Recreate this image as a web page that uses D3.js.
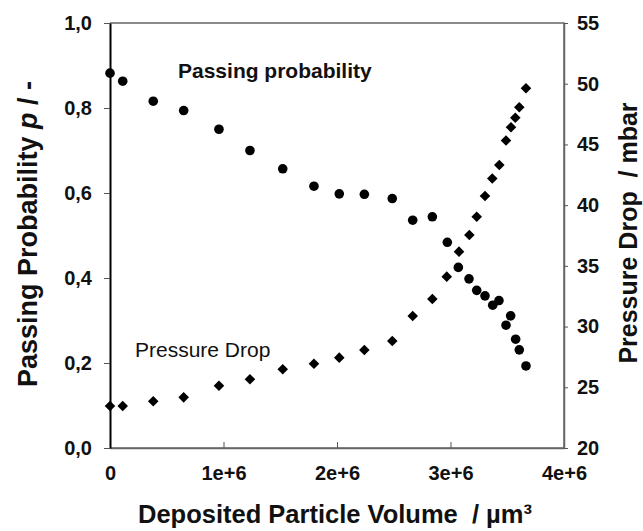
<!DOCTYPE html>
<html lang="en">
<head>
  <meta charset="UTF-8">
  <title>Passing probability and pressure drop</title>
  <style>
  body { margin: 0; background: #fff; }
  svg { display: block; }
  text { font-family: "Liberation Sans", Arial, sans-serif; fill: #111; white-space: pre; }
  .tick text { font-weight: bold; font-size: 20px; }
  .title { font-weight: bold; font-size: 26px; }
  </style>
</head>
<body>
  <svg></svg>
  <script src="https://d3js.org/d3.v7.min.js"></script>
  <script>
  // deposited particle volume (um^3)
  var volume = [0, 0.112e6, 0.381e6, 0.649e6, 0.960e6, 1.233e6, 1.522e6, 1.797e6, 2.020e6, 2.241e6,
                2.487e6, 2.667e6, 2.840e6, 2.972e6, 3.069e6, 3.163e6, 3.231e6, 3.304e6, 3.372e6,
                3.427e6, 3.530e6, 3.489e6, 3.574e6, 3.606e6, 3.665e6];
  var passing = [0.882, 0.863, 0.816, 0.794, 0.750, 0.700, 0.657, 0.616, 0.598, 0.597,
                 0.587, 0.536, 0.544, 0.484, 0.425, 0.398, 0.371, 0.358, 0.336,
                 0.347, 0.311, 0.289, 0.256, 0.231, 0.193];
  var volumeDp = [0, 0.112e6, 0.381e6, 0.649e6, 0.960e6, 1.233e6, 1.522e6, 1.797e6, 2.020e6, 2.241e6,
                  2.487e6, 2.667e6, 2.840e6, 2.967e6, 3.075e6, 3.166e6, 3.231e6, 3.304e6, 3.368e6,
                  3.430e6, 3.489e6, 3.533e6, 3.571e6, 3.606e6, 3.665e6];
  var pressureDrop = [23.46, 23.46, 23.85, 24.17, 25.13, 25.66, 26.48, 26.94, 27.44, 28.07,
                      28.81, 30.87, 32.27, 34.11, 36.17, 37.54, 39.05, 40.75, 42.2,
                      43.31, 45.33, 46.41, 47.2, 48.06, 49.62];
  var xTicks = [0, 1e6, 2e6, 3e6, 4e6];
  var leftTicks = [0, 0.2, 0.4, 0.6, 0.8, 1.0];
  var rightTicks = [20, 25, 30, 35, 40, 45, 50, 55];

  var width = 643;
  var height = 531;
  var plotL = 110, plotR = 564, plotT = 23, plotB = 448;

  var svg = d3.select("svg")
      .attr("width", width)
      .attr("height", height);

  var xScale = d3.scaleLinear().domain([0, 4e6]).range([plotL, plotR]);
  var yLeft = d3.scaleLinear().domain([0, 1]).range([plotB, plotT]);
  var yRight = d3.scaleLinear().domain([20, 55]).range([plotB, plotT]);

  // frame (top + right + bottom in grey)
  svg.append("path")
      .attr("d", "M" + plotL + "," + plotT + "H" + plotR + "V" + plotB + "H" + plotL)
      .attr("fill", "none")
      .attr("stroke", "#666")
      .attr("stroke-width", 1.5);

  var xAxis = svg.append("g")
      .attr("transform", "translate(0," + plotB + ")")
      .call(d3.axisBottom(xScale)
        .tickValues(xTicks)
        .tickSizeInner(-6)
        .tickSizeOuter(0)
        .tickFormat(d => d === 0 ? "0" : (d / 1e6) + "e+6"));
  xAxis.select(".domain").attr("stroke", "#666").attr("stroke-width", 1.5);
  xAxis.selectAll(".tick line").attr("stroke", "#555");
  xAxis.selectAll(".tick text").attr("y", 18).attr("dy", "0.71em");

  var lAxis = svg.append("g")
      .attr("transform", "translate(" + plotL + ",0)")
      .call(d3.axisLeft(yLeft)
        .tickValues(leftTicks)
        .tickSizeInner(6)
        .tickSizeOuter(0)
        .tickPadding(12)
        .tickFormat(d => d.toFixed(1).replace(".", ",")));
  lAxis.select(".domain").attr("stroke", "#000").attr("stroke-width", 2);
  lAxis.selectAll(".tick line").attr("stroke", "#555");

  var rAxis = svg.append("g")
      .attr("transform", "translate(" + plotR + ",0)")
      .call(d3.axisRight(yRight)
        .tickValues(rightTicks)
        .tickSizeInner(4)
        .tickSizeOuter(0)
        .tickPadding(9));
  rAxis.select(".domain").attr("stroke", "#666").attr("stroke-width", 1.5);
  rAxis.selectAll(".tick line").attr("stroke", "#555");

  // passing probability, circles
  svg.append("g").selectAll("circle")
      .data(volume)
      .enter()
      .append("circle")
        .attr("cx", d => xScale(d))
        .attr("cy", (d, i) => yLeft(passing[i]))
        .attr("r", 4.8)
        .attr("fill", "#000");

  // pressure drop, diamonds
  var diamond = d3.symbol(d3.symbolSquare, 56);
  svg.append("g").selectAll("path")
      .data(volumeDp)
      .enter()
      .append("path")
        .attr("d", diamond)
        .attr("transform", (d, i) => "translate(" + xScale(d) + "," + yRight(pressureDrop[i]) + ") rotate(45)")
        .attr("fill", "#000");

  // annotations
  svg.append("text")
      .attr("x", 178).attr("y", 78)
      .style("font-weight", "bold").style("font-size", "21px")
      .text("Passing probability");
  svg.append("text")
      .attr("x", 135).attr("y", 357)
      .style("font-size", "21px")
      .text("Pressure Drop");

  // axis titles
  svg.append("text")
      .attr("class", "title")
      .attr("text-anchor", "middle")
      .style("font-size", "25.5px")
      .attr("x", 335).attr("y", 523)
      .text("Deposited Particle Volume  / µm³");

  var lt = svg.append("text")
      .attr("class", "title")
      .attr("text-anchor", "middle")
      .style("font-size", "27px")
      .attr("transform", "translate(37,234) rotate(-90)");
  lt.append("tspan").text("Passing Probability ");
  lt.append("tspan").style("font-style", "italic").text("p");
  lt.append("tspan").text(" / -");

  svg.append("text")
      .attr("class", "title")
      .attr("text-anchor", "middle")
      .style("font-size", "25px")
      .attr("transform", "translate(637,233) rotate(-90)")
      .text("Pressure Drop  / mbar");
  </script>
</body>
</html>
